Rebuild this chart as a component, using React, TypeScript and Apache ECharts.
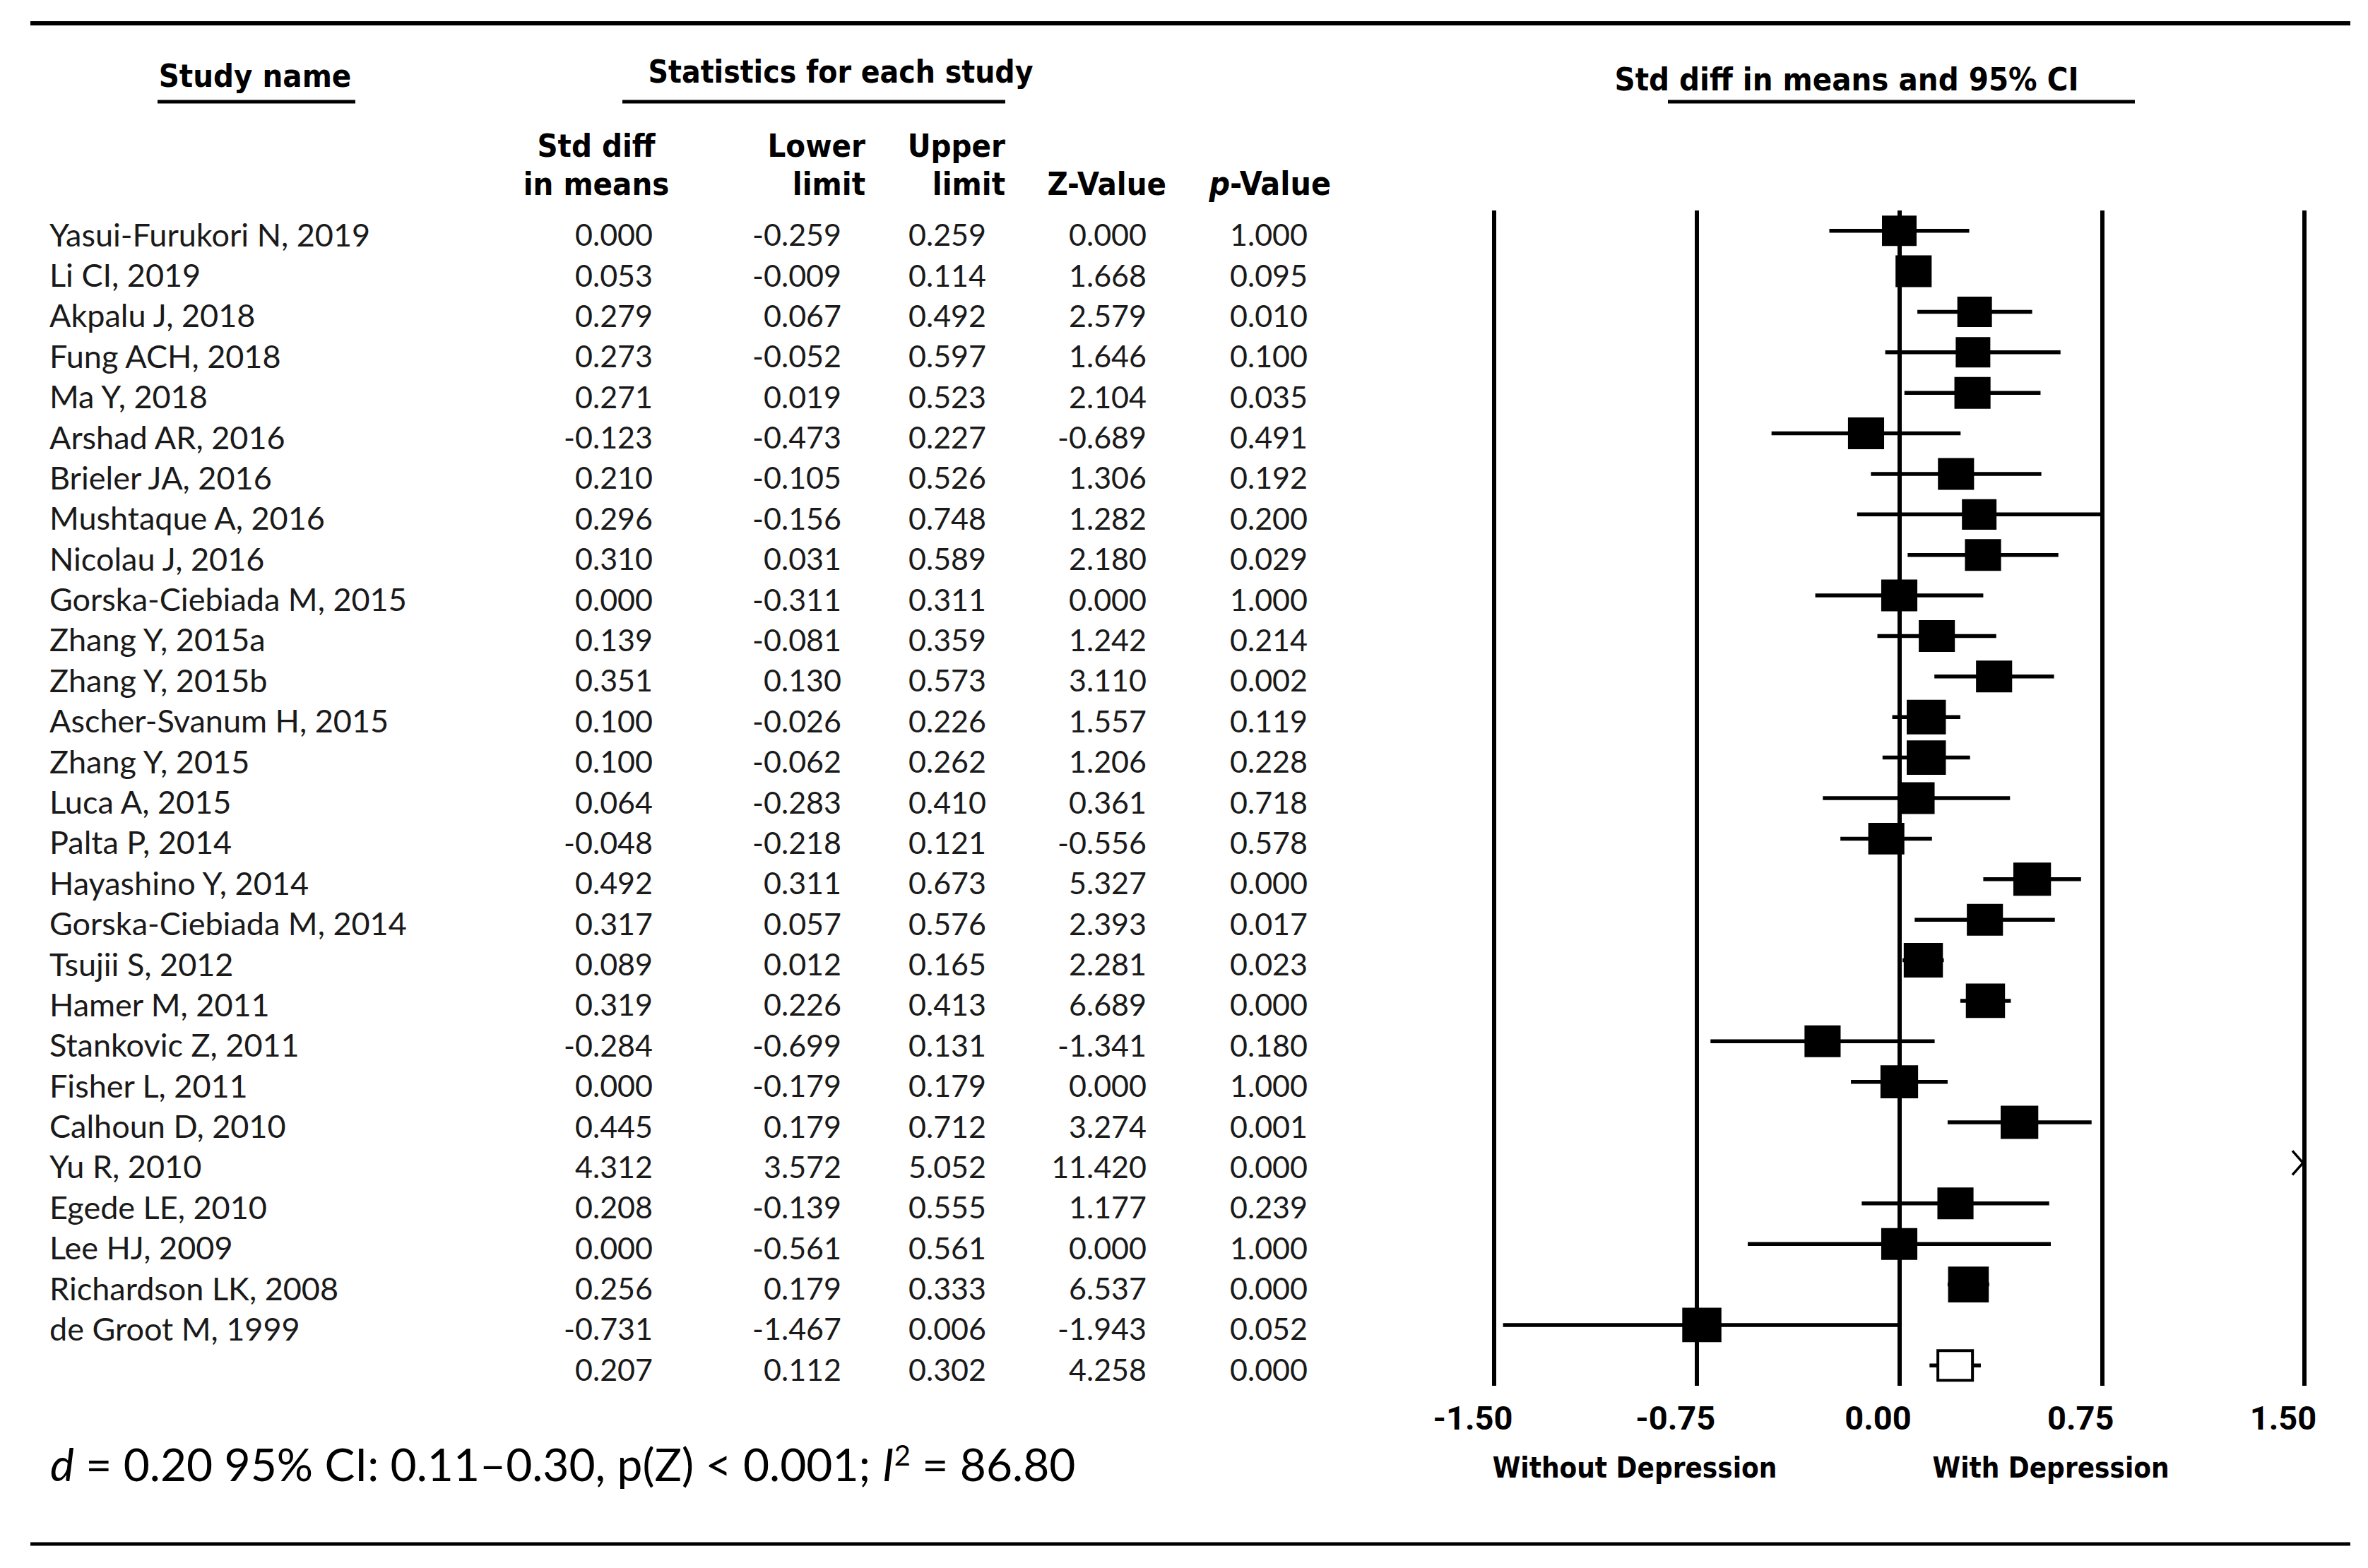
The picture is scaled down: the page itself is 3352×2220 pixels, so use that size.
import React, { useEffect, useRef } from "react";
import * as echarts from "echarts";

const studies = [
  "Yasui-Furukori N, 2019", "Li CI, 2019", "Akpalu J, 2018", "Fung ACH, 2018", "Ma Y, 2018",
  "Arshad AR, 2016", "Brieler JA, 2016", "Mushtaque A, 2016", "Nicolau J, 2016",
  "Gorska-Ciebiada M, 2015", "Zhang Y, 2015a", "Zhang Y, 2015b", "Ascher-Svanum H, 2015",
  "Zhang Y, 2015", "Luca A, 2015", "Palta P, 2014", "Hayashino Y, 2014",
  "Gorska-Ciebiada M, 2014", "Tsujii S, 2012", "Hamer M, 2011", "Stankovic Z, 2011",
  "Fisher L, 2011", "Calhoun D, 2010", "Yu R, 2010", "Egede LE, 2010", "Lee HJ, 2009",
  "Richardson LK, 2008", "de Groot M, 1999",
];
const smd = [0.0, 0.053, 0.279, 0.273, 0.271, -0.123, 0.21, 0.296, 0.31, 0.0, 0.139, 0.351, 0.1, 0.1, 0.064, -0.048, 0.492, 0.317, 0.089, 0.319, -0.284, 0.0, 0.445, 4.312, 0.208, 0.0, 0.256, -0.731];
const lower = [-0.259, -0.009, 0.067, -0.052, 0.019, -0.473, -0.105, -0.156, 0.031, -0.311, -0.081, 0.13, -0.026, -0.062, -0.283, -0.218, 0.311, 0.057, 0.012, 0.226, -0.699, -0.179, 0.179, 3.572, -0.139, -0.561, 0.179, -1.467];
const upper = [0.259, 0.114, 0.492, 0.597, 0.523, 0.227, 0.526, 0.748, 0.589, 0.311, 0.359, 0.573, 0.226, 0.262, 0.41, 0.121, 0.673, 0.576, 0.165, 0.413, 0.131, 0.179, 0.712, 5.052, 0.555, 0.561, 0.333, 0.006];
const zval = [0.0, 1.668, 2.579, 1.646, 2.104, -0.689, 1.306, 1.282, 2.18, 0.0, 1.242, 3.11, 1.557, 1.206, 0.361, -0.556, 5.327, 2.393, 2.281, 6.689, -1.341, 0.0, 3.274, 11.42, 1.177, 0.0, 6.537, -1.943];
const pval = [1.0, 0.095, 0.01, 0.1, 0.035, 0.491, 0.192, 0.2, 0.029, 1.0, 0.214, 0.002, 0.119, 0.228, 0.718, 0.578, 0.0, 0.017, 0.023, 0.0, 0.18, 1.0, 0.001, 0.0, 0.239, 1.0, 0.0, 0.052];
// relative study weights (%), estimated from square sizes
const weights = [3.4, 3.55, 3.4, 3.4, 3.55, 3.55, 3.55, 3.4, 3.55, 3.55, 3.55, 3.55, 3.85, 3.85, 3.55, 3.55, 3.7, 3.55, 3.85, 3.85, 3.55, 3.7, 3.7, 3.5, 3.55, 3.55, 4.0, 3.85];
const summary = { smd: 0.207, lower: 0.112, upper: 0.302, z: 4.258, p: 0.0 };
const xTicks = [-1.5, -0.75, 0, 0.75, 1.5];

const W = 3352;
const H = 2220;
const BODY = "Lato, 'Noto Sans', sans-serif";
const HEAD = "'Liberation Sans Narrow', 'DejaVu Sans Condensed', Lato, sans-serif";
const NAME_FS = 45;
const NUM_FS = 43;

export default function App() {
  const ref = useRef<HTMLDivElement>(null);
  useEffect(() => {
    const chart = echarts.init(ref.current!, null, { renderer: "svg", width: W, height: H });
    const n = studies.length;
    const tableData = [] as number[][];
    for (let i = 0; i <= n; i++) tableData.push([0, i]);
    const forestData = studies.map((_, i) => [smd[i], i, lower[i], upper[i], weights[i]]);

    const txt = (text: string, x: number, y: number, align: string, size: number) => ({
      type: "text",
      x,
      y,
      style: { text, fill: "#1a1a1a", fontSize: size, fontFamily: BODY, align, verticalAlign: "middle" },
    });
    const f3 = (v: number) => v.toFixed(3);
    const cols = [924, 1191, 1396, 1623, 1851];

    const headText = (text: string, x: number, y: number, align = "center", size = 45) => ({
      type: "text",
      x,
      y,
      style: { text, fill: "#000", fontSize: size, fontWeight: "bold", fontFamily: HEAD, align, verticalAlign: "middle" },
    });
    const hline = (x1: number, x2: number, y: number, w: number) => ({
      type: "line",
      shape: { x1, y1: y, x2, y2: y },
      style: { stroke: "#000", lineWidth: w },
    });

    const option: any = {
      animation: false,
      backgroundColor: "#fff",
      grid: { left: 2115, top: 298, width: 1147, height: 1664 },
      xAxis: {
        type: "value",
        min: xTicks[0],
        max: xTicks[xTicks.length - 1],
        interval: 0.75,
        axisLine: { show: false },
        axisTick: { show: false },
        splitLine: { show: true, showMinLine: true, showMaxLine: true, lineStyle: { color: "#000", width: 6 } },
        axisLabel: {
          color: "#000",
          fontSize: 47,
          fontWeight: "bold",
          fontFamily: "Roboto, Lato, sans-serif",
          margin: 22,
          padding: [0, 60, 0, 0],
          formatter: (v: number) => v.toFixed(2),
        },
      },
      yAxis: { type: "value", min: -0.5, max: n + 0.5, inverse: true, show: false },
      series: [
        {
          type: "custom",
          name: "table",
          clip: false,
          data: tableData,
          encode: { x: 0, y: 1 },
          renderItem: (_p: any, api: any) => {
            const i = api.value(1) as number;
            const y = api.coord([0, i])[1] + 5;
            const isSum = i === n;
            const vals = isSum
              ? [summary.smd, summary.lower, summary.upper, summary.z, summary.p]
              : [smd[i], lower[i], upper[i], zval[i], pval[i]];
            const children: any[] = [];
            if (!isSum) children.push(txt(studies[i], 70, y, "left", NAME_FS));
            vals.forEach((v, k) => children.push(txt(f3(v), cols[k], y, "right", NUM_FS)));
            return { type: "group", children };
          },
        },
        {
          type: "custom",
          name: "forest",
          clip: false,
          data: forestData,
          encode: { x: 0, y: 1 },
          renderItem: (_p: any, api: any) => {
            const est = api.value(0) as number;
            const i = api.value(1) as number;
            const lo = api.value(2) as number;
            const hi = api.value(3) as number;
            const w = api.value(4) as number;
            const xmin = xTicks[0];
            const xmax = xTicks[xTicks.length - 1];
            const y = api.coord([0, i])[1];
            const children: any[] = [];
            if (lo > xmax) {
              const xr = api.coord([xmax, i])[0];
              children.push({
                type: "polyline",
                shape: { points: [[xr - 17, y - 17], [xr - 2, y], [xr - 17, y + 17]] },
                style: { stroke: "#000", lineWidth: 3.5, fill: "none" },
              });
              return { type: "group", children };
            }
            const x1 = api.coord([Math.max(lo, xmin), i])[0];
            const x2 = api.coord([Math.min(hi, xmax), i])[0];
            children.push({
              type: "line",
              shape: { x1, y1: y, x2, y2: y },
              style: { stroke: "#000", lineWidth: 5.5 },
            });
            const cx = api.coord([est, i])[0];
            const sw = w * 14.4;
            const sh = sw * 0.88;
            children.push({
              type: "rect",
              shape: { x: cx - sw / 2, y: y - sh / 2, width: sw, height: sh },
              style: { fill: "#000" },
            });
            return { type: "group", children };
          },
        },
        {
          type: "custom",
          name: "summary",
          clip: false,
          data: [[summary.smd, n, summary.lower, summary.upper]],
          encode: { x: 0, y: 1 },
          renderItem: (_p: any, api: any) => {
            const i = api.value(1) as number;
            const y = api.coord([0, i])[1];
            const x1 = api.coord([api.value(2), i])[0];
            const x2 = api.coord([api.value(3), i])[0];
            const cx = api.coord([api.value(0), i])[0];
            const sw = 49;
            const sh = 42;
            return {
              type: "group",
              children: [
                { type: "line", shape: { x1, y1: y, x2, y2: y }, style: { stroke: "#000", lineWidth: 5.5 } },
                {
                  type: "rect",
                  shape: { x: cx - sw / 2, y: y - sh / 2, width: sw, height: sh },
                  style: { fill: "#fff", stroke: "#000", lineWidth: 4 },
                },
              ],
            };
          },
        },
      ],
      graphic: [
        hline(43, 3327, 33, 6),
        hline(43, 3327, 2186, 5),
        headText("Study name", 361, 107),
        hline(223, 503, 144, 5),
        headText("Statistics for each study", 1190, 101, "center", 44),
        hline(881, 1423, 144, 5),
        headText("Std diff", 844, 206),
        headText("in means", 844, 260),
        headText("Lower", 1225, 206, "right"),
        headText("limit", 1225, 260, "right"),
        headText("Upper", 1423, 206, "right"),
        headText("limit", 1423, 260, "right"),
        headText("Z-Value", 1651, 260, "right"),
        {
          type: "text",
          x: 1884,
          y: 260,
          style: {
            text: "{i|p}-Value",
            fill: "#000",
            fontSize: 46,
            fontWeight: "bold",
            fontFamily: HEAD,
            align: "right",
            verticalAlign: "middle",
            rich: { i: { fontStyle: "italic", fontSize: 46, fontWeight: "bold", fontFamily: HEAD } },
          },
        },
        headText("Std diff in means and 95% CI", 2614, 112, "center", 45),
        hline(2361, 3022, 144, 5),
        headText("Without Depression", 2314, 2078, "center", 40),
        headText("With Depression", 2903, 2078, "center", 40),
        {
          type: "text",
          x: 71,
          y: 2072,
          style: {
            text: "{it|d} = 0.20 95% CI: 0.11–0.30, p(Z) < 0.001; {it|I}{sup|2} = 86.80",
            fill: "#000",
            fontSize: 64,
            fontFamily: BODY,
            align: "left",
            verticalAlign: "middle",
            rich: {
              it: { fontStyle: "italic", fontSize: 64, fontFamily: BODY },
              sup: { fontSize: 40, fontFamily: BODY, verticalAlign: "top", padding: [0, 0, 24, 0] },
            },
          },
        },
      ],
    };
    chart.setOption(option);
    return () => chart.dispose();
  }, []);
  return (
    <div
      ref={ref}
      style={{ position: "fixed", left: 0, top: 0, width: W, height: H, background: "#fff" }}
    />
  );
}
